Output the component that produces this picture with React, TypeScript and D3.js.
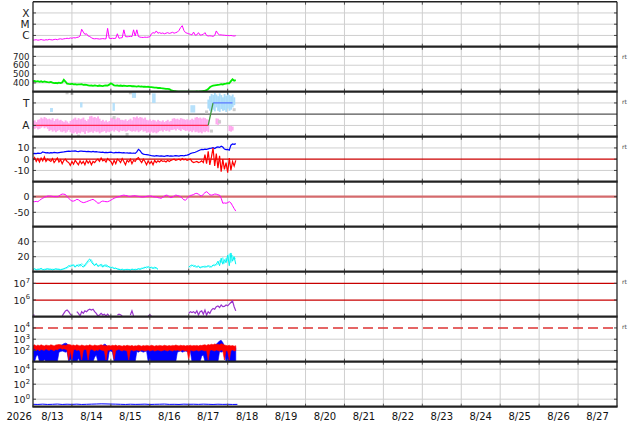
import React from 'react';
import * as d3 from 'd3';

// ---------- time axis ----------
const T0 = Date.UTC(2026, 7, 13);
const T_END = Date.UTC(2026, 7, 28);
const HOUR = 3600e3;
const yearLabel = '2026';
const dayLabels = ['8/13', '8/14', '8/15', '8/16', '8/17', '8/18', '8/19', '8/20', '8/21', '8/22', '8/23', '8/24', '8/25', '8/26', '8/27'];

// ---------- panel 1: X-ray flux (log10 W/m2), hourly from 8/13 00UT ----------
const xrsLog = [
  -6.42, -6.4, -6.38, -6.42, -6.4, -6.36, -6.4, -6.42, -6.38, -6.4, -6.35, -6.38, -6.4, -6.36, -6.34, -6.38, -6.32, -6.3, -6.34,
  -6.3, -6.28, -6.25, -6.28, -6.22, -6.25, -6.2, -6.22, -6.18, -6.15, -6.05,
  -5.45,
  -5.7, -5.9, -5.85, -6.05, -6.1, -6.2,
  -6.28, -6.3, -6.28, -6.3, -6.32, -6.3, -6.28, -6.3, -6.3,
  -5.37,
  -6.25, -6.28, -6.25, -6.27, -6.25, -5.85, -6.25, -6.22, -6.2,
  -5.5,
  -6.1, -6.12, -6.1, -6.08, -6.1, -5.5, -6.05, -5.5, -6.1,
  -6.15, -6.17, -6.18, -6.15, -6.17, -6.15, -6.12,
  -5.85, -5.75, -5.8, -5.6, -5.8, -5.75, -5.82, -5.78, -5.85, -5.8, -5.75, -5.82, -5.78, -5.72, -5.8, -5.75, -5.7, -5.55, -5.3, -5.13,
  -5.55, -5.75, -5.8, -5.85, -5.9,
  -5.95, -5.7, -5.98, -5.95, -5.75, -5.97, -5.95, -5.9, -5.75, -6.0,
  -6.05, -6.03, -6.05, -6.08, -6.0, -5.6,
  -5.85, -5.95, -5.95, -5.97, -5.98, -6.0, -6.0, -6.02, -6.0, -6.03, -6.05, -6.02,
];
const xrsTicks = [-4, -5, -6];
const xrsTickLabels = ['X', 'M', 'C'];

// ---------- panel 2: solar wind speed (km/s) ----------
const windSpeed = [
  418, 422, 415, 420, 412, 418, 410, 416, 412, 408, 405, 410,
  402, 398, 400, 396, 402, 398, 405,
  435,
  415, 392, 388, 385, 390, 383, 386, 380, 384, 382, 385, 378, 380, 376,
  372, 368, 370, 366, 372, 368, 365, 370, 367, 364, 368, 372, 370, 380,
  395, 385,
  372, 368, 370, 367, 370, 365, 368, 366, 364, 367, 365, 362,
  362, 360, 358, 362, 357, 360, 356, 358, 355, 356, 352,
  352, 350, 347, 345, 342, 344, 340, 338, 336, 333, 332, 330,
  318, 312, 308, 305, 303, 302, 301, 300, 300, 301, 300, 300, 301, 300, 300, 301, 302, 301, 303, 305, 308, 312, 318,
  330, 350, 362, 368, 372,
  375, 378, 380, 385, 382, 388, 392, 398, 395,
  420, 440, 425, 430,
];
const windTicks = [400, 500, 600, 700];

// ---------- panel 3: IMF sector (T = +1, A = -1) ----------
const pinkHi = [
  -0.6, -0.55, -0.7, -0.5, -0.45,
  -0.3, -0.4, -0.25, -0.35, -0.45,
  -0.4, -0.5, -0.35, -0.6, -0.45, -0.4, -0.55, -0.5,
  -0.6, -0.7, -0.55, -0.65, -0.8, -0.6, -0.5,
  -0.4, -0.3, -0.5, -0.35, -0.45, -0.4, -0.3, -0.5, -0.6, -0.45,
  -0.2, -0.15, -0.3, -0.25, -0.35, -0.2, -0.4,
  -0.6, -0.5, -0.65, -0.55, -0.7, -0.6,
  -0.35, -0.3, -0.4, -0.45, -0.3, -0.35, -0.5,
  -0.5, -0.55, -0.45, -0.6, -0.5, -0.4, -0.55,
  -0.25, -0.3, -0.2, -0.35, -0.25, -0.3, -0.4, -0.3,
  -0.5, -0.55, -0.45, -0.6, -0.5, -0.55, -0.65, -0.5,
  -0.6, -0.65, -0.55, -0.7, -0.6, -0.5, -0.65, -0.6,
  -0.4, -0.35, -0.45, -0.4, -0.5, -0.35, -0.4, -0.45,
  -0.5, -0.45, -0.55, -0.5, -0.4, -0.5,
  -0.3, -0.25, -0.35, -0.3, -0.4, -0.3, -0.35, -0.45, -0.5,
  null, null, null, null,
  -0.37, -0.4, -0.5,
  null, null, null, null, null,
  -1.0, -1.05, -1.1,
  null, null,
];
const pinkLo = [
  -1.25, -1.3, -1.2, -1.35, -1.3,
  -1.2, -1.1, -1.25, -1.15, -1.3,
  -1.5, -1.4, -1.55, -1.45, -1.6, -1.5, -1.4, -1.55,
  -1.6, -1.5, -1.65, -1.55, -1.4, -1.6, -1.7,
  -1.7, -1.6, -1.75, -1.65, -1.7, -1.55, -1.6, -1.75, -1.5, -1.65,
  -1.6, -1.55, -1.65, -1.5, -1.6, -1.55, -1.7,
  -1.6, -1.55, -1.5, -1.65, -1.55, -1.6,
  -1.5, -1.45, -1.55, -1.4, -1.5, -1.6, -1.45,
  -1.5, -1.45, -1.55, -1.5, -1.4, -1.5, -1.55,
  -1.5, -1.55, -1.45, -1.6, -1.5, -1.4, -1.55, -1.5,
  -1.65, -1.6, -1.7, -1.55, -1.65, -1.6, -1.7, -1.6,
  -1.5, -1.45, -1.55, -1.4, -1.5, -1.45, -1.55, -1.4,
  -1.4, -1.35, -1.45, -1.3, -1.4, -1.5, -1.35, -1.4,
  -1.5, -1.45, -1.55, -1.5, -1.6, -1.45,
  -1.6, -1.55, -1.65, -1.6, -1.7, -1.55, -1.6, -1.5, -1.6,
  null, null, null, null,
  -0.9, -0.95, -0.85,
  null, null, null, null, null,
  -1.5, -1.55, -1.45,
  null, null,
];
// light-blue patches: [start hour, end hour, low, high]
const lightBluePatches = [
  [10.5, 12.3, 0.2, 0.55],
  [29, 30.5, 0.6, 1.05],
  [49, 50.5, 0.3, 1.0],
  [61, 63.5, 1.45, 1.95],
  [73.4, 75.6, 1.0, 1.85],
  [97, 100, 0.15, 0.8],
];
const tBandStart = 108;
const tBandHi = [1.3, 1.6, 1.8, 1.7, 1.9, 1.75, 1.6, 1.85, 1.7, 1.5, 1.8, 1.65, 1.9, 1.7, 1.6, 1.75, 1.5];
const tBandLo = [0.5, 0.3, 0.2, 0.4, 0.25, 0.6, 0.3, 0.2, 0.45, 0.3, 0.35, 0.2, 0.5, 0.3, 0.4, 0.6, 0.8];
const greyHours = [21, 24, 28, 50, 58, 60, 107, 110, 115, 124];
const greyVals = [1.9, 1.85, -1.95, -0.3, -1.8, 1.9, 0.2, -1.5, -0.67, 0.4];
const sectorHours = [0, 108, 111, 123];
const sectorVals = [-1, -1, 1, 1];
const sectorColors = ['#ff2a55', '#3f9a3f', '#5a78ff'];
const sectorTicks = [1, -1];
const sectorTickLabels = ['T', 'A'];

// ---------- panel 4: IMF Bt (blue) and Bz (red), nT ----------
const bt = [
  5.0, 5.2, 5.0, 5.4, 5.1, 5.3, 6.5,
  6.0, 5.6, 5.8, 5.5, 5.9, 5.7, 6.0, 5.8, 5.6, 5.9, 6.1, 6.3,
  6.5, 6.8, 7.0, 7.2, 6.9, 7.3, 7.1, 7.4, 7.0, 6.8, 7.2, 7.1, 6.9, 7.0, 6.7, 7.0, 6.8, 6.6, 6.9, 6.5, 6.7, 6.4, 6.3,
  6.0, 6.2, 5.9, 6.1, 5.8, 6.0, 6.2, 5.9, 5.7, 6.0, 5.8, 6.1, 5.9, 5.6, 5.8, 5.5, 5.7, 5.4, 5.6, 5.3, 5.5, 5.2,
  6.5, 8.8, 7.5, 5.5,
  4.5, 4.2, 4.0, 3.8, 3.5,
  3.2, 3.0, 2.8, 3.1, 2.9, 2.7, 3.0, 2.8, 2.6, 2.9, 3.1, 2.8, 3.0, 2.7, 2.9, 3.2, 3.0, 2.8, 3.1, 3.3, 3.0, 3.4, 3.6, 4.0,
  5.0, 5.5, 5.8, 6.2, 6.8, 7.5,
  8.2, 8.7, 8.5, 9.0, 8.8, 9.2, 9.6,
  9.8, 10.2, 9.5, 10.5,
  11.0, 10.5, 11.5, 10.8,
  9.0, 8.5, 8.7, 8.0,
  12.5, 13.5, 13.2, 13.8,
];
const bz = [
  -1, 1.5, -2, 0.5, -2.5, 1, -1.5, 2, -2, 0, -1,
  -2, 0.5, -3, -1, 1, -2.5, -0.5, -4, -1, 0, -2,
  -3, -5.5, -2, -4.5, -1,
  -3, -5, -1.5, -4, -2, -5, -1, -3.5, -1.5, -5, -2, -3, -1,
  0, -2, 1, -1.5, -0.5, -2.5, 0.5, -1,
  -2, -5, -1, -4, 0,
  -1, -3, 0.5, -2, -5, -1, -2.5, 0, -4, -1, -2, 0.5,
  1.5, -1, -3, 0,
  -2, -5, -1.5, -4, -2, -5, -1, -3,
  -1.5, -2.5, -1, -2, -1.5, -2.5, -1, -2, -1,
  -0.5, 0, -1, -0.5, 0, -1, 0.5, -0.5, 0, -1, -0.5, 0,
  -2, -3, -2.5, -2, -3, -2.5, -1.5, -3,
  4, -4, 7, -5, 2,
  10, -6, 5,
  -8, 3, -11, 0, -9, -3, -12, 1,
  -10, -2, -6, -1,
];
const bTicks = [10, 0, -10];

// ---------- panel 5: Dst (nT) ----------
const dst = [
  -16, -16, -15, -16, -12, -8, -5, -2, 0, 2, 2, 2, 1, 0, 0, 0, 2, 6, 8.5, 8, 7,
  0, -5, -10, -14, -14, -12, -8.5, -10, -14, -17, -19, -18, -16, -14, -12, -10, -8.5,
  -12, -16, -21, -20, -16, -14, -15, -16, -16, -14, -11, -8, -5, -3, -1, 0,
  2, 4, 5, 4, 3, 1, 1, 2, 3, 3, 2, 1, 0, -1, -1, 0, 1, 2, 2, 2,
  0, -1, -1, -3, -4, -5, -2, 2, 5, 4, 0, -3, -1, 2, 5, 4, 2, 0, -5, -10,
  -11, -6, 0, 4, 5, 7, 10, 10.7, 8, 4, 2, 8, 13, 16, 12, 6, 5, 6, 8.5, 8,
  6, 5, -5, -21, -20, -21, -19, -16, -20, -29, -38, -46,
];
const dstTicks = [0, -50];

// ---------- panel 6: proton density (two channels) ----------
const densA = [
  3, 4, 2.5, 3.5, 3, 4.5, 3, 2.5, 3.5, 4, 3, 3.5, 2.5, 3, 4, 3, 3.5, 2.5, 3,
  4, 5, 6, 8, 7, 9, 8, 6,
  9, 7, 10, 8, 6, 9,
  12, 15, 17, 13, 10, 8, 11, 7,
  8, 10, 6, 9, 7, 8, 6,
  5, 6, 4, 5, 3.5,
  3, 2.5, 3.5, 2, 3, 2.5, 3, 2, 3.5, 3, 2.5, 3, 4, 3,
  4, 5, 6, 5, 7, 5, 6, 4, 6, 5, 3,
  null, null, null, null, null, null, null, null, null, null, null, null, null, null, null, null, null, null,
  6, 8, 9, 7, 8, 6, 7, 5, 6, 7,
  6, 7, 8, 6, 7, 9, 8, 10,
  14, 8, 18, 10, 16,
  12, 22, 8, 25, 14, 20, 10,
];
const densB = [
  2.5, 3.5, 3, 2.5, 4, 3.5, 2.5, 3.5, 3, 3, 4, 2.5, 3.5, 3, 3, 4, 2.5, 3, 3.5,
  3.5, 4, 5, 6, 9, 7, 10, 7,
  8, 10, 7, 11, 9, 7,
  10, 13, 14, 16, 12, 9, 10, 8,
  9, 7, 9, 7, 10, 6, 7,
  6, 5, 5, 4, 4,
  3.5, 3, 2.5, 3, 2.5, 3.5, 2.5, 3, 3, 2.5, 3.5, 3, 3.5, 4,
  5, 4, 5, 7, 5, 6, 5, 6, 4, 5, 4,
  null, null, null, null, null, null, null, null, null, null, null, null, null, null, null, null, null, null,
  7, 6, 8, 9, 6, 7, 8, 6, 7, 6,
  8, 6, 7, 8, 6, 8, 10, 9,
  10, 15, 12, 19, 11,
  18, 14, 24, 12, 22, 16, 18,
];
const densTicks = [40, 20];

// ---------- panel 7: electron flux (log10) ----------
const elecLog = [
  5.1, 5.1,
  null, null, null, null, null, null, null, null, null, null, null, null, null, null, null, null,
  5.05, 5.2, 5.35, 5.4, 5.3, 5.15, 5.05,
  null, null,
  5.3, 5.2, 5.05, 5.3, 5.2, 5.35, 5.3, 5.4, 5.45, 5.4, 5.45, 5.3, 5.2, 5.05,
  5.1, 5.2, 5.1, 5.15, 5.05, 5.15, 5.05,
  null, null, null, null,
  5.1, 5.15, 5.12, 5.05,
  null, null, null, null,
  5.1, 5.35, 5.05,
  null, null, null, null, null, null, null, null,
  5.05, 5.12, 5.05,
  null, null, null, null, null, null, null, null, null, null, null, null, null, null, null, null, null, null, null, null, null, null,
  5.2, 5.3, 5.25, 5.3, 5.2, 5.35,
  5.1, 5.3, 5.35, 5.15, 5.4, 5.1, 5.3,
  5.2, 5.4, 5.5, 5.45,
  5.6, 5.65, 5.55, 5.7, 5.6, 5.62, 5.7, 5.65, 5.75,
  5.85, 5.95, 5.6, 5.35,
];
const elecTicks = [7, 6];
const elecRefLines = [7, 6];

// ---------- panel 8: proton flux bands (log10) ----------
const redHi = [
  2.45, 2.5, 2.4, 2.48, 2.42, 2.5, 2.44, 2.4, 2.48, 2.45,
  2.42, 2.5, 2.46, 2.4, 2.48, 2.5, 2.52, 2.5, 2.45, 2.48,
  2.45, 2.5, 2.52, 2.5, 2.45, 2.48, 2.42, 2.5, 2.45, 2.4,
  2.48, 2.44, 2.4, 2.46, 2.42, 2.5, 2.45, 2.4, 2.48, 2.44,
  2.42, 2.46, 2.5, 2.45, 2.45, 2.42, 2.42, 2.45, 2.4, 2.46,
  2.42, 2.48, 2.4, 2.45, 2.42, 2.38, 2.44, 2.4, 2.46, 2.42,
  2.4, 2.45, 2.38, 2.42, 2.4, 2.46, 2.42, 2.38, 2.44, 2.4,
  2.45, 2.42, 2.4, 2.46, 2.42, 2.38, 2.44, 2.4, 2.45, 2.42,
  2.4, 2.46, 2.42, 2.4, 2.44, 2.4, 2.45, 2.42, 2.48, 2.44,
  2.4, 2.46, 2.42, 2.45, 2.4, 2.44, 2.42, 2.46, 2.4, 2.44,
  2.42, 2.45, 2.4, 2.46, 2.44, 2.48, 2.5, 2.45, 2.52, 2.48,
  2.55, 2.5, 2.58, 2.52, 2.55, 2.5, 2.6, 2.55, 2.48, 2.45,
  2.42, 2.46, 2.4, 2.44, 2.38, 2.42,
];
const redLo = [
  2.05, 2.15, 2.0, 2.1, 1.95, 2.1, 2.05, 2.0, 2.15, 2.05,
  2.0, 2.1, 2.05, 1.95, 2.1, 2.05, 2.15, 2.2, 2.1, 2.15,
  2.1, 2.05, 1.15, 2.0, 1.2, 2.05, 2.1, 2.0, 2.05, 1.95,
  1.15, 2.0, 2.1, 2.05, 1.15, 2.0, 2.1, 2.05, 1.95, 2.05,
  2.0, 2.1, 2.05, 2.0, 1.95, 1.15, 2.05, 2.0, 2.1, 2.05,
  1.2, 2.0, 2.05, 2.1, 2.0, 1.95, 2.05, 2.0, 1.95, 1.15,
  2.0, 2.05, 1.95, 2.0, 2.05, 2.0, 1.95, 2.05, 2.0, 1.95,
  2.0, 2.05, 1.95, 2.0, 2.05, 1.95, 2.0, 2.05, 2.0, 1.95,
  2.0, 2.05, 2.0, 1.95, 2.05, 2.0, 1.95, 2.05, 2.0, 2.05,
  2.0, 1.95, 2.05, 2.0, 1.95, 2.0, 1.15, 2.05, 2.0, 1.95,
  2.0, 2.05, 1.95, 2.0, 2.05, 2.0, 1.95, 2.0, 1.15, 2.0,
  2.05, 2.0, 1.95, 2.05, 2.0, 1.95, 2.05, 2.0, 1.15, 2.0,
  1.95, 1.15, 2.0, 2.05, 1.95, 2.0,
];
const blueHi = [
  2.2, 2.25, 2.15, 2.3, 2.2, 2.28, 2.18, 2.25, 2.3, 2.22,
  2.25, 2.3, 2.2, 2.35, 2.3, 2.38, 2.4, 2.45, 2.5, 2.6,
  2.65, 2.6, 2.45, 2.35, 2.3, 2.25, 2.3, 2.2, 2.28, 2.22,
  2.25, 2.2, 2.3, 2.22, 2.28, 2.2, 2.25, 2.3, 2.22, 2.2,
  2.25, 2.3, 2.35, 2.45, 2.55, 2.5, 2.35, 2.25, 2.2, 2.28,
  2.22, 2.3, 2.25, 2.2, 2.28, 2.22, 2.3, 2.25, 2.2, 2.28,
  2.22, 2.25, 2.3, 2.2, 2.25, 2.28, 2.22, 2.3, 2.25, 2.2,
  2.28, 2.22, 2.3, 2.25, 2.2, 2.28, 2.22, 2.25, 2.3, 2.2,
  2.25, 2.3, 2.22, 2.28, 2.2, 2.25, 2.3, 2.22, 2.28, 2.2,
  2.25, 2.3, 2.22, 2.28, 2.2, 2.25, 2.3, 2.22, 2.28, 2.25,
  2.3, 2.22, 2.28, 2.25, 2.3, 2.22, 2.28, 2.35, 2.3, 2.25,
  2.3, 2.35, 2.45, 2.55, 2.7, 2.85, 2.9, 2.7, 2.4, 2.3,
  2.25, 2.3, 2.2, 2.28, 2.22, 2.25,
];
const blueLo = [
  1.0, 1.0, 1.5, 1.6, 1.0, 1.0, 1.0, 1.2, 1.0, 1.0,
  1.0, 1.0, 1.0, 1.0, 1.0, 1.0, 1.85, 1.9, 1.95, 1.9,
  1.85, 1.9, 1.0, 1.2, 1.0, 1.0, 1.0, 1.0, 1.3, 1.0,
  1.0, 1.0, 1.0, 1.0, 1.0, 1.0, 1.0, 1.0, 1.4, 1.6,
  1.0, 1.0, 1.0, 1.0, 1.0, 1.0, 1.0, 1.9, 1.95, 1.85,
  1.0, 1.0, 1.0, 1.0, 1.0, 1.0, 1.0, 1.0, 1.0, 1.0,
  1.0, 1.0, 1.0, 1.0, 1.9, 1.85, 1.95, 1.9, 1.85, 1.9,
  1.95, 1.0, 1.0, 1.0, 1.0, 1.0, 1.0, 1.0, 1.0, 1.0,
  1.0, 1.0, 1.0, 1.0, 1.0, 1.0, 1.0, 1.0, 1.0, 1.85,
  1.9, 1.95, 1.85, 1.9, 1.95, 1.9, 1.85, 1.9, 1.0, 1.0,
  1.0, 1.0, 1.0, 1.0, 1.5, 1.6, 1.0, 1.0, 1.0, 1.0,
  1.0, 1.0, 1.0, 1.0, 1.0, 1.9, 1.85, 1.9, 1.95, 1.0,
  1.0, 1.0, 1.0, 1.0, 1.0, 1.0,
];
const protTicks = [4, 3, 2];
const protGrid = [3, 2];
const protDashed = 4;

// ---------- panel 9: high-energy flux (log10), 3-hourly ----------
const hiEnergyStep = 3;
const hiEnergyLog = [
  -0.68, -0.7, -0.66, -0.7, -0.68, -0.65, -0.7, -0.67, -0.69, -0.66, -0.7, -0.68, -0.66, -0.64, -0.62,
  -0.63, -0.65, -0.66, -0.68, -0.7, -0.67, -0.69, -0.68, -0.66, -0.7, -0.68, -0.67, -0.65, -0.69, -0.68,
  -0.7, -0.66, -0.68, -0.67, -0.69, -0.66, -0.68, -0.7, -0.67, -0.69, -0.68, -0.7, -0.69,
];
const hiTicks = [4, 2, 0];

// panels that carry the small "rt" tag on the right
const rtPanels = [1, 2, 3, 6, 7];

// ---------- layout ----------
const W = 634;
const H = 424;
const LEFT = 33;
const RIGHT = 617;
const TOP0 = 1.7;
const PH = 45;
const FONT = 'DejaVu Sans, sans-serif';

type V = number | null;
const pts = (vals: V[], step = 1, start = 0) => vals.map((v, i) => ({ t: T0 + (start + i * step) * HOUR, v }));

export default function App() {
  const x = d3.scaleUtc().domain([new Date(T0), new Date(T_END)]).range([LEFT, RIGHT]);
  const xt = (t: number) => x(new Date(t));
  const top = (i: number) => TOP0 + i * PH;
  const bot = (i: number) => TOP0 + (i + 1) * PH;

  const y1 = d3.scaleLog().domain([1e-7, 1e-3]).range([bot(0), top(0)]);
  const y2 = d3.scaleLinear().domain([300, 810]).range([bot(1), top(1)]);
  const y3 = d3.scaleLinear().domain([-2, 2]).range([bot(2), top(2)]);
  const y4 = d3.scaleLinear().domain([-20, 20]).range([bot(3), top(3)]);
  const y5 = d3.scaleLinear().domain([-96, 48]).range([bot(4), top(4)]);
  const y6 = d3.scaleLinear().domain([0, 60]).range([bot(5), top(5)]);
  const y7 = d3.scaleLog().domain([1e5, 5e7]).range([bot(6), top(6)]);
  const y8 = d3.scaleLog().domain([10, 1e5]).range([bot(7), top(7)]);
  const y9 = d3.scaleLog().domain([0.1, 1e5]).range([bot(8), top(8)]);

  const p10 = (v: number) => Math.pow(10, v);

  const linePath = (vals: V[], y: (v: number) => number, step = 1, start = 0) =>
    d3
      .line<{ t: number; v: V }>()
      .defined((d) => d.v != null)
      .x((d) => xt(d.t))
      .y((d) => y(d.v as number))(pts(vals, step, start)) || '';

  const areaPath = (hi: V[], lo: V[], y: (v: number) => number) => {
    const data = hi.map((h, i) => ({ t: T0 + i * HOUR, h, l: lo[i] }));
    return (
      d3
        .area<{ t: number; h: V; l: V }>()
        .defined((d) => d.h != null && d.l != null)
        .x((d) => xt(d.t))
        .y0((d) => y(d.l as number))
        .y1((d) => y(d.h as number))(data) || ''
    );
  };

  const midnights = d3.utcDay.range(new Date(T0 + 24 * HOUR), new Date(T_END));
  const days = d3.utcDay.range(new Date(T0), new Date(T_END));
  const hourW = xt(T0 + HOUR) - xt(T0);

  const gridColor = '#cfcfcf';
  const hGrid = (i: number, ys: number[]) =>
    ys.map((yy, k) => <line key={`hg${i}-${k}`} x1={LEFT} x2={RIGHT} y1={yy} y2={yy} stroke={gridColor} strokeWidth={1} />);

  const tickLabel = (yy: number, label: string, k: string | number, size = 9.5) => (
    <text key={`tl${k}`} x={29.5} y={yy} dy="0.36em" textAnchor="end" fontSize={size} fill="#222">
      {label}
    </text>
  );
  const powLabel = (yy: number, exp: number, k: string | number) => (
    <text key={`pl${k}`} x={30} y={yy} dy="0.4em" textAnchor="end" fontSize={9.5} fill="#222">
      <tspan>10</tspan>
      <tspan dy="-4.5" fontSize={6.8}>{String(exp)}</tspan>
    </text>
  );
  const sideTicks = (ys: number[], k: string) =>
    ys.map((yy, j) => (
      <g key={`st${k}${j}`}>
        <line x1={LEFT} x2={LEFT + 3} y1={yy} y2={yy} stroke="#444" strokeWidth={1} />
        <line x1={RIGHT - 3} x2={RIGHT} y1={yy} y2={yy} stroke="#444" strokeWidth={1} />
      </g>
    ));

  // y positions of tick values per panel
  const t1 = xrsTicks.map((v) => y1(p10(v)));
  const t2 = windTicks.map((v) => y2(v));
  const t3 = sectorTicks.map((v) => y3(v));
  const t4 = bTicks.map((v) => y4(v));
  const t5 = dstTicks.map((v) => y5(v));
  const t6 = densTicks.map((v) => y6(v));
  const t7 = elecTicks.map((v) => y7(p10(v)));
  const t8 = protTicks.map((v) => y8(p10(v)));
  const t9 = hiTicks.map((v) => y9(p10(v)));

  return (
    <svg
      width={W}
      height={H}
      viewBox={`0 0 ${W} ${H}`}
      style={{ position: 'absolute', left: 0, top: 0, background: '#fff', fontFamily: FONT }}
    >
      <rect x={0} y={0} width={W} height={H} fill="#fff" />
      <defs>
        {d3.range(9).map((i) => (
          <clipPath id={`clip${i}`} key={i}>
            <rect x={LEFT} y={top(i)} width={RIGHT - LEFT} height={PH} />
          </clipPath>
        ))}
      </defs>

      {/* vertical day grid */}
      {midnights.map((d, k) => (
        <line key={`vg${k}`} x1={x(d)} x2={x(d)} y1={top(0)} y2={bot(8)} stroke={gridColor} strokeWidth={1} />
      ))}

      {/* horizontal grids */}
      {hGrid(0, t1)}
      {hGrid(1, t2)}
      {hGrid(2, t3)}
      {hGrid(3, [y4(10), y4(-10)])}
      {hGrid(4, [y5(-50)])}
      {hGrid(5, t6)}
      {hGrid(7, protGrid.map((v) => y8(p10(v))))}
      {hGrid(8, t9)}

      {/* reference lines */}
      <line x1={LEFT} x2={RIGHT} y1={y3(0)} y2={y3(0)} stroke="#555" strokeWidth={1.2} />
      <line x1={LEFT} x2={RIGHT} y1={y4(0)} y2={y4(0)} stroke="#cc0000" strokeWidth={1.2} />
      <line x1={LEFT} x2={RIGHT} y1={y5(0)} y2={y5(0)} stroke="#d46a6c" strokeWidth={2.2} />
      {elecRefLines.map((v, k) => (
        <line key={`er${k}`} x1={LEFT} x2={RIGHT} y1={y7(p10(v))} y2={y7(p10(v))} stroke="#c80000" strokeWidth={1.2} />
      ))}
      <line
        x1={LEFT}
        x2={RIGHT}
        y1={y8(p10(protDashed))}
        y2={y8(p10(protDashed))}
        stroke="#dd3333"
        strokeWidth={1.4}
        strokeDasharray="10,5"
      />

      {/* panel 1 */}
      <g clipPath="url(#clip0)">
        <path d={linePath(xrsLog, (v) => y1(p10(v)))} fill="none" stroke="#ff00ff" strokeWidth={1} />
      </g>

      {/* panel 2 */}
      <g clipPath="url(#clip1)">
        <path d={linePath(windSpeed, (v) => y2(v))} fill="none" stroke="#00ee00" strokeWidth={1.8} />
      </g>

      {/* panel 3 */}
      <g clipPath="url(#clip2)">
        {pinkHi.map((h, i) =>
          h == null || pinkLo[i] == null ? null : (
            <rect
              key={`pk${i}`}
              x={xt(T0 + i * HOUR) - hourW / 2}
              width={hourW + 0.3}
              y={y3(h)}
              height={y3(pinkLo[i] as number) - y3(h)}
              fill="#ffaaee"
            />
          )
        )}
        {lightBluePatches.map((p, k) => (
          <rect
            key={`lb${k}`}
            x={xt(T0 + p[0] * HOUR)}
            width={xt(T0 + p[1] * HOUR) - xt(T0 + p[0] * HOUR)}
            y={y3(p[3])}
            height={y3(p[2]) - y3(p[3])}
            fill="#aadcfa"
            opacity={0.85}
          />
        ))}
        {tBandHi.map((h, k) => (
          <rect
            key={`tb${k}`}
            x={xt(T0 + (tBandStart + k) * HOUR) - hourW / 2}
            width={hourW + 0.3}
            y={y3(h)}
            height={y3(tBandLo[k]) - y3(h)}
            fill="#aadcfa"
          />
        ))}
        {greyHours.map((h, k) => (
          <rect key={`gp${k}`} x={xt(T0 + h * HOUR) - 1.5} y={y3(greyVals[k]) - 1.5} width={3} height={3} fill="#cccccc" />
        ))}
        {sectorColors.map((c, k) => (
          <line
            key={`sl${k}`}
            x1={xt(T0 + sectorHours[k] * HOUR)}
            x2={xt(T0 + sectorHours[k + 1] * HOUR)}
            y1={y3(sectorVals[k])}
            y2={y3(sectorVals[k + 1])}
            stroke={c}
            strokeWidth={1.3}
          />
        ))}
      </g>

      {/* panel 4 */}
      <g clipPath="url(#clip3)">
        <path d={linePath(bt, (v) => y4(v))} fill="none" stroke="#0000ff" strokeWidth={1.2} />
        <path d={linePath(bz, (v) => y4(v))} fill="none" stroke="#ff0000" strokeWidth={1.2} />
      </g>

      {/* panel 5 */}
      <g clipPath="url(#clip4)">
        <path d={linePath(dst, (v) => y5(v))} fill="none" stroke="#ff00ff" strokeWidth={1} />
      </g>

      {/* panel 6 */}
      <g clipPath="url(#clip5)">
        <path d={linePath(densB, (v) => y6(v))} fill="none" stroke="#66ffff" strokeWidth={1} />
        <path d={linePath(densA, (v) => y6(v))} fill="none" stroke="#00f0f0" strokeWidth={1} />
      </g>

      {/* panel 7 */}
      <g clipPath="url(#clip6)">
        <path d={linePath(elecLog, (v) => y7(p10(v)))} fill="none" stroke="#9933cc" strokeWidth={1.2} />
      </g>

      {/* panel 8 */}
      <g clipPath="url(#clip7)">
        <path d={areaPath(blueHi, blueLo, (v) => y8(p10(v)))} fill="#0000ff" stroke="#0000ff" strokeWidth={0.6} />
        <path d={areaPath(redHi, redLo, (v) => y8(p10(v)))} fill="#ff0000" stroke="#ff0000" strokeWidth={0.6} />
      </g>

      {/* panel 9 */}
      <g clipPath="url(#clip8)">
        <path d={linePath(hiEnergyLog, (v) => y9(p10(v)), hiEnergyStep)} fill="none" stroke="#0000ff" strokeWidth={1} />
      </g>

      {/* side ticks */}
      {sideTicks(t1, 'a')}
      {sideTicks(t2, 'b')}
      {sideTicks(t3, 'c')}
      {sideTicks(t4, 'd')}
      {sideTicks(t5, 'e')}
      {sideTicks(t6, 'f')}
      {sideTicks(t7, 'g')}
      {sideTicks(t8, 'h')}
      {sideTicks(t9, 'i')}

      {/* x ticks on panel edges */}
      {d3.range(9).map((i) =>
        midnights.map((d, k) => (
          <g key={`xt${i}-${k}`}>
            <line x1={x(d)} x2={x(d)} y1={top(i)} y2={top(i) + 3} stroke="#555" strokeWidth={1} />
            <line x1={x(d)} x2={x(d)} y1={bot(i) - 3} y2={bot(i)} stroke="#555" strokeWidth={1} />
          </g>
        ))
      )}

      {/* borders */}
      <line x1={LEFT} x2={LEFT} y1={top(0)} y2={bot(8)} stroke="#222" strokeWidth={1.3} />
      <line x1={RIGHT} x2={RIGHT} y1={top(0)} y2={bot(8)} stroke="#222" strokeWidth={1.3} />
      <line x1={LEFT} x2={RIGHT} y1={top(0)} y2={top(0)} stroke="#222" strokeWidth={1.5} />
      {d3.range(9).map((i) => (
        <line key={`bd${i}`} x1={LEFT - 0.6} x2={RIGHT + 0.6} y1={bot(i)} y2={bot(i)} stroke="#222" strokeWidth={2.2} />
      ))}

      {/* y tick labels */}
      {t1.map((yy, k) => tickLabel(yy, xrsTickLabels[k], `a${k}`, 10.5))}
      {t2.map((yy, k) => tickLabel(yy, String(windTicks[k]), `b${k}`, 8.6))}
      {t3.map((yy, k) => tickLabel(yy, sectorTickLabels[k], `c${k}`, 10.5))}
      {t4.map((yy, k) => tickLabel(yy, String(bTicks[k]), `d${k}`))}
      {t5.map((yy, k) => tickLabel(yy, String(dstTicks[k]), `e${k}`))}
      {t6.map((yy, k) => tickLabel(yy, String(densTicks[k]), `f${k}`))}
      {t7.map((yy, k) => powLabel(yy, elecTicks[k], `g${k}`))}
      {t8.map((yy, k) => powLabel(yy, protTicks[k], `h${k}`))}
      {t9.map((yy, k) => powLabel(yy, hiTicks[k], `i${k}`))}

      {/* rt tags */}
      {rtPanels.map((i) => (
        <text key={`rt${i}`} x={622} y={top(i) + 12} fontSize={6} fill="#444">
          rt
        </text>
      ))}

      {/* x-axis labels */}
      <text x={6.5} y={420} fontSize={10} fill="#111">
        {yearLabel}
      </text>
      {days.map((d, k) => (
        <text key={`dl${k}`} x={xt(+d + 12 * HOUR)} y={420} fontSize={10} textAnchor="middle" fill="#111">
          {dayLabels[k]}
        </text>
      ))}
    </svg>
  );
}
